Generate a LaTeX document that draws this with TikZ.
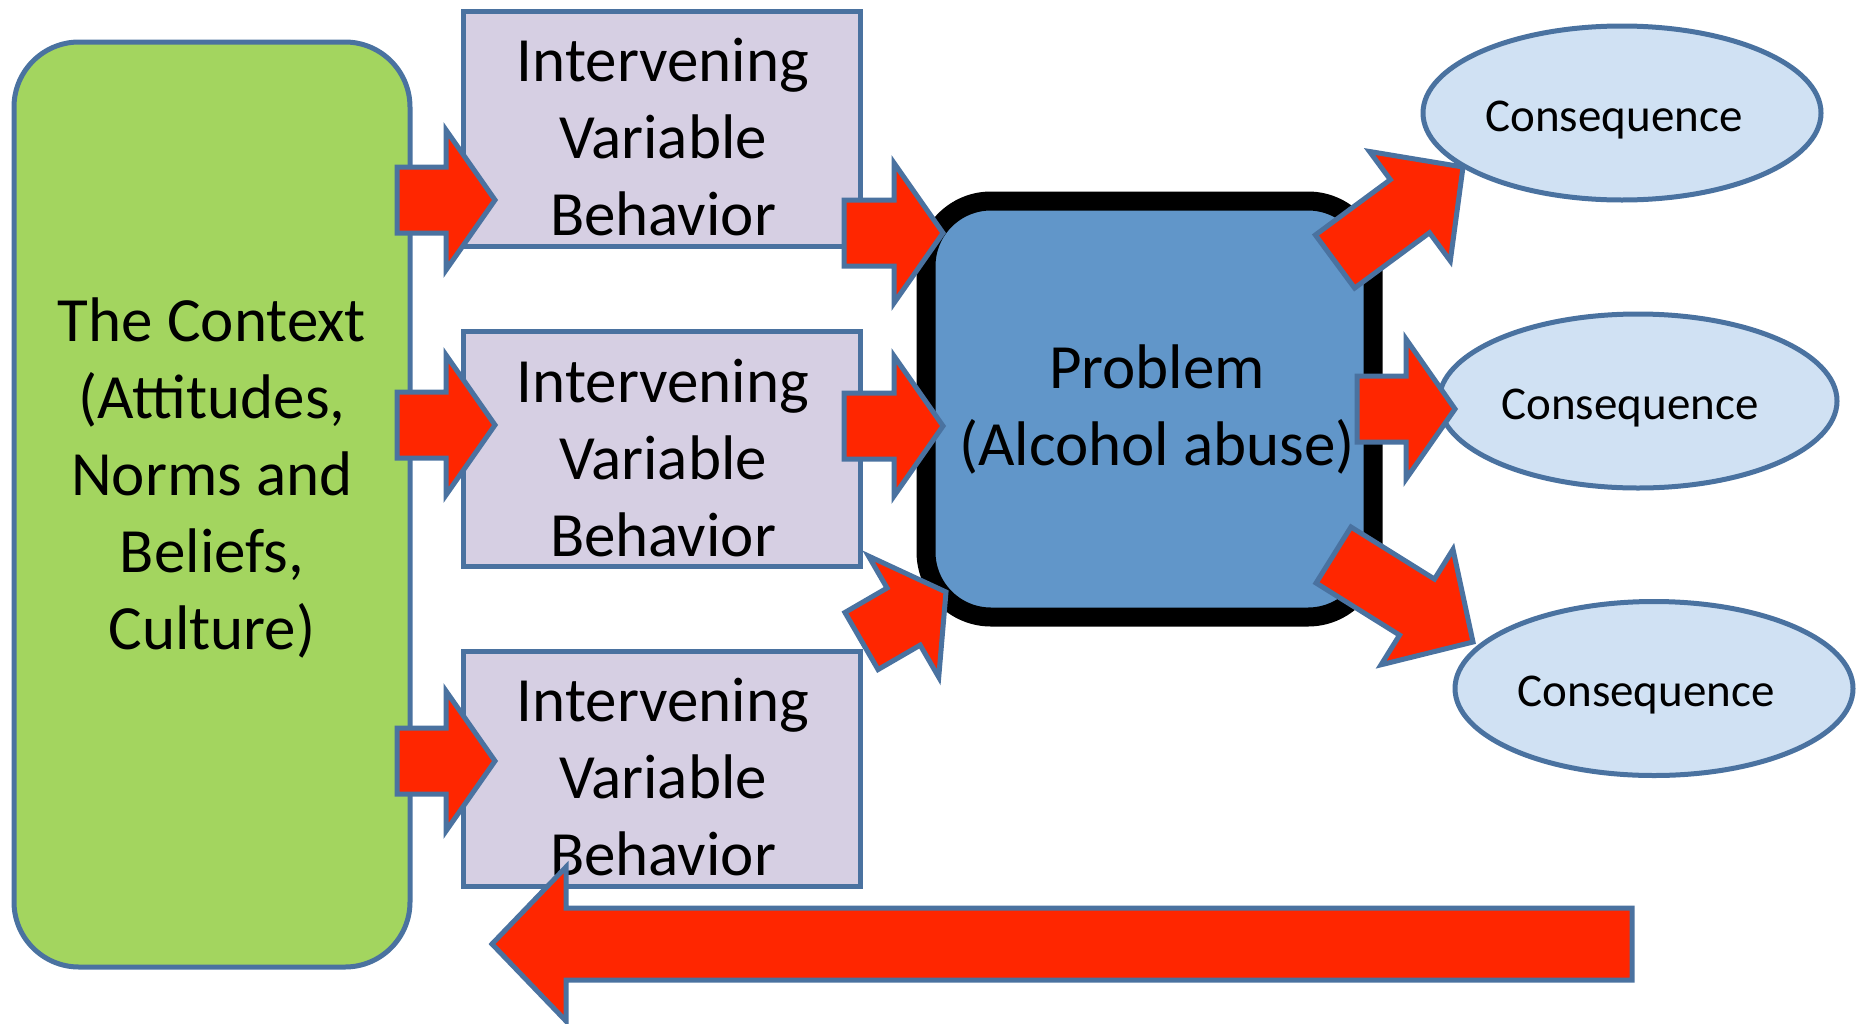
\documentclass[tikz,border=0pt]{standalone}
\usepackage{fontspec}
\setmainfont{Carlito}
\usetikzlibrary{calc,shapes.geometric}

\definecolor{edgeblue}{HTML}{4A72A0}
\definecolor{ctxgreen}{HTML}{A3D55F}
\definecolor{ivlilac}{HTML}{D6CFE3}
\definecolor{probblue}{HTML}{6196C9}
\definecolor{conblue}{HTML}{D0E1F3}
\definecolor{arrowred}{HTML}{FF2600}

\tikzset{
  bigtext/.style={font=\fontsize{63}{77}\selectfont, align=center, inner sep=0pt},
  smalltext/.style={font=\fontsize{47}{56}\selectfont, inner sep=0pt},
  ctxbox/.style={draw=edgeblue, line width=5pt, fill=ctxgreen, rounded corners=65pt,
    minimum width=396pt, minimum height=925pt, inner sep=0pt},
  ivbox/.style={draw=edgeblue, line width=5pt, fill=ivlilac,
    minimum width=397pt, minimum height=235pt, inner sep=0pt},
  probbox/.style={draw=black, line width=19pt, fill=probblue, rounded corners=65pt,
    minimum width=447pt, minimum height=416pt, inner sep=0pt},
  conell/.style={ellipse, draw=edgeblue, line width=5pt, fill=conblue,
    minimum width=398pt, minimum height=174pt, inner sep=0pt},
  fat arrow/.style={draw=edgeblue, line width=5pt, fill=arrowred,
    line join=miter, miter limit=10},
}

% block arrow: #1 tail, #2 tip, #3 shaft half-width, #4 head half-width, #5 head length
\newcommand\redarrow[5]{%
  \path ($(#2)!#5pt!(#1)$) coordinate (ra-base);
  \draw[fat arrow]
    ($(#1)!#3pt!90:(#2)$) -- ($(ra-base)!#3pt!90:(#2)$) -- ($(ra-base)!#4pt!90:(#2)$)
    -- (#2)
    -- ($(ra-base)!#4pt!-90:(#2)$) -- ($(ra-base)!#3pt!-90:(#2)$) -- ($(#1)!#3pt!-90:(#2)$)
    -- cycle;
}

\begin{document}
\begin{tikzpicture}[x=1pt, y=-1pt]
  \useasboundingbox (0,0) rectangle (1860,1023);

  % context
  \node[ctxbox] (ctx) at (212,504.5) {};
  \node[bigtext] (ctxlabel) at (212,477.5)
    {The Context\\(Attitudes,\\Norms and\\Beliefs,\\Culture)};

  % intervening variables
  \node[ivbox] (iv1) at (661.5,128.5) {};
  \node[ivbox] (iv2) at (661.5,449) {};
  \node[ivbox] (iv3) at (661.5,768.5) {};
  \node[bigtext] (iv1label) at ($(iv1)+(1.5,9)$) {Intervening\\Variable\\Behavior};
  \node[bigtext] (iv2label) at ($(iv2)+(1.5,9)$) {Intervening\\Variable\\Behavior};
  \node[bigtext] (iv3label) at ($(iv3)+(1.5,9)$) {Intervening\\Variable\\Behavior};

  % problem
  \node[probbox] (prob) at (1149.5,409) {};
  \node[bigtext] (problabel) at (1157,409.5) {Problem\\(Alcohol abuse)};

  % consequences
  \node[conell] (con1) at (1622,113) {};
  \node[conell] (con2) at (1638,401) {};
  \node[conell] (con3) at (1654,688.5) {};
  \node[smalltext] (con1label) at ($(con1)+(-8,7)$) {Consequence};
  \node[smalltext] (con2label) at ($(con2)+(-8,7)$) {Consequence};
  \node[smalltext] (con3label) at ($(con3)+(-8,7)$) {Consequence};

  % arrow ends
  \coordinate (a1t) at (397,200);   \coordinate (a1h) at (495,200);
  \coordinate (a2t) at (397,425);   \coordinate (a2h) at (495,425);
  \coordinate (a3t) at (397,761);   \coordinate (a3h) at (495,761);
  \coordinate (b1t) at (844,233);   \coordinate (b1h) at (943,233);
  \coordinate (b2t) at (844,426);   \coordinate (b2h) at (943,426);
  \coordinate (b3t) at (861.5,641); \coordinate (b3h) at (946,592);
  \coordinate (c1t) at (1335,261.5);\coordinate (c1h) at (1463,167);
  \coordinate (c2t) at (1357,409);  \coordinate (c2h) at (1455,409);
  \coordinate (c3t) at (1333.5,555);\coordinate (c3h) at (1473,642);
  \coordinate (dt)  at (1632,944);  \coordinate (dh)  at (492,944);

  % context -> intervening variables
  \redarrow{a1t}{a1h}{33}{70}{49}
  \redarrow{a2t}{a2h}{33}{70}{49}
  \redarrow{a3t}{a3h}{33}{70}{49}
  % intervening variables -> problem
  \redarrow{b1t}{b1h}{33}{70}{49}
  \redarrow{b2t}{b2h}{33}{70}{49}
  \redarrow{b3t}{b3h}{33}{70}{49}
  % problem -> consequences
  \redarrow{c1t}{c1h}{33}{68}{66}
  \redarrow{c2t}{c2h}{33}{70}{49}
  \redarrow{c3t}{c3h}{33}{68}{66}
  % feedback to the context
  \redarrow{dt}{dh}{36}{77}{74}
\end{tikzpicture}
\end{document}
